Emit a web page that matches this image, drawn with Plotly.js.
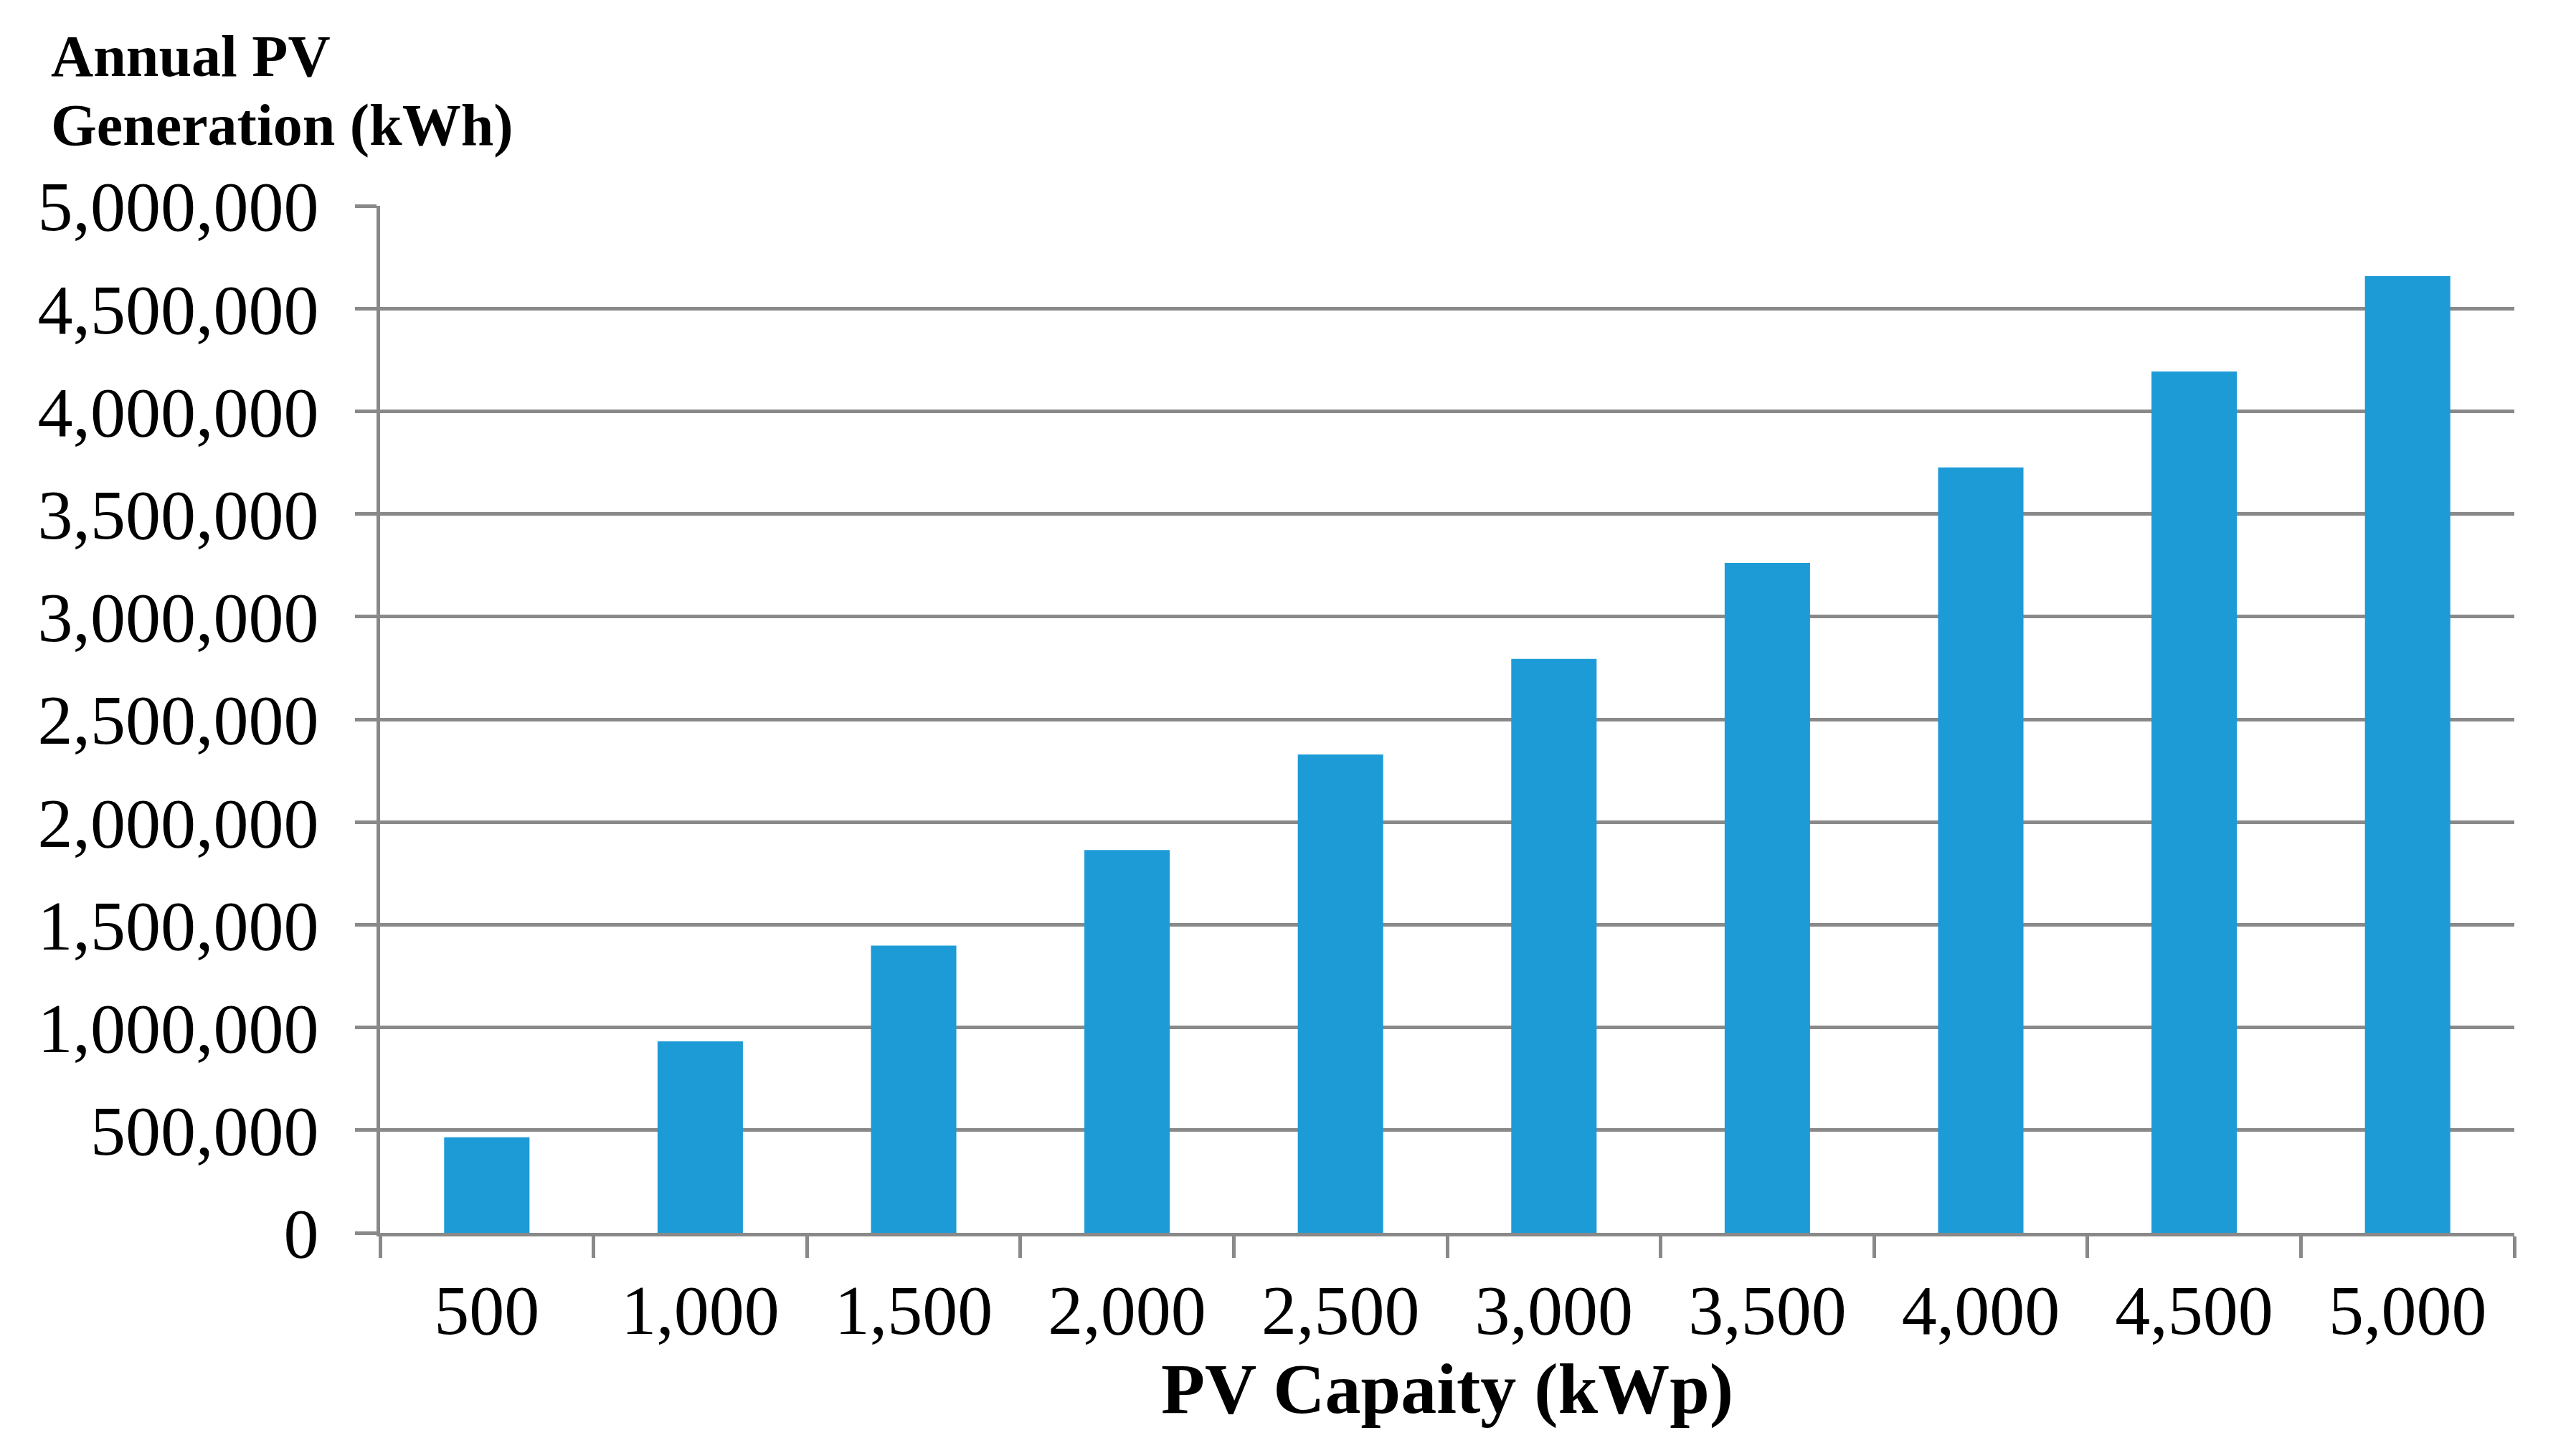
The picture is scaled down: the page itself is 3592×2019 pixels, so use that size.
<!DOCTYPE html>
<html>
<head>
<meta charset="utf-8">
<script src="https://cdn.plot.ly/plotly-3.0.1.min.js"></script>
<style>
html,body{margin:0;padding:0;background:#fff;}
#chart{width:3592px;height:2019px;}
</style>
</head>
<body>
<div id="chart"></div>
<script>
const capacityLabels = ["500", "1,000", "1,500", "2,000", "2,500", "3,000", "3,500", "4,000", "4,500", "5,000"];
const annualGeneration = [465000, 932000, 1398000, 1864000, 2329000, 2794000, 3261000, 3726000, 4193000, 4658000];
const yTitleLines = ["Annual PV", "Generation (kWh)"];
const xTitleText = "PV Capaity (kWp)";

const serif = "Liberation Serif, Times New Roman, serif";
const gridColor = "#898989";

const trace = {
  type: "bar",
  x: capacityLabels,
  y: annualGeneration,
  marker: {color: "#1d9bd7", line: {width: 0}},
  hoverinfo: "x+y"
};

const layout = {
  width: 3592,
  height: 2019,
  paper_bgcolor: "#ffffff",
  plot_bgcolor: "#ffffff",
  margin: {l: 530, r: 86, t: 287, b: 300, pad: 0},
  showlegend: false,
  bargap: 0.6,
  font: {family: serif, color: "#000000"},
  xaxis: {
    type: "category",
    tickson: "boundaries",
    ticks: "outside",
    ticklen: 30,
    tickwidth: 5,
    tickcolor: gridColor,
    showline: true,
    linecolor: gridColor,
    linewidth: 5,
    showgrid: false,
    zeroline: false,
    tickfont: {family: serif, size: 98, color: "#000000"},
    ticklabelstandoff: 18,
    automargin: false,
    title: {
      text: "<b>" + xTitleText + "</b>",
      font: {family: serif, size: 100, color: "#000000"},
      standoff: 10
    }
  },
  yaxis: {
    range: [0, 5000000],
    dtick: 500000,
    tick0: 0,
    tickformat: ",d",
    ticks: "outside",
    ticklen: 30,
    tickwidth: 5,
    tickcolor: gridColor,
    showline: true,
    linecolor: gridColor,
    linewidth: 5,
    showgrid: true,
    gridcolor: gridColor,
    gridwidth: 5,
    zeroline: false,
    tickfont: {family: serif, size: 98, color: "#000000"},
    ticklabelstandoff: 31,
    automargin: false,
    fixedrange: true
  },
  annotations: [
    {
      text: "<b>" + yTitleLines[0] + "</b>",
      xref: "paper", yref: "paper",
      x: -0.1548, y: 1.1453,
      xanchor: "left", yanchor: "middle",
      showarrow: false,
      font: {family: serif, size: 82, color: "#000000"}
    },
    {
      text: "<b>" + yTitleLines[1] + "</b>",
      xref: "paper", yref: "paper",
      x: -0.1548, y: 1.0789,
      xanchor: "left", yanchor: "middle",
      showarrow: false,
      font: {family: serif, size: 82, color: "#000000"}
    }
  ]
};

Plotly.newPlot("chart", [trace], layout, {staticPlot: true, displayModeBar: false});
</script>
</body>
</html>
